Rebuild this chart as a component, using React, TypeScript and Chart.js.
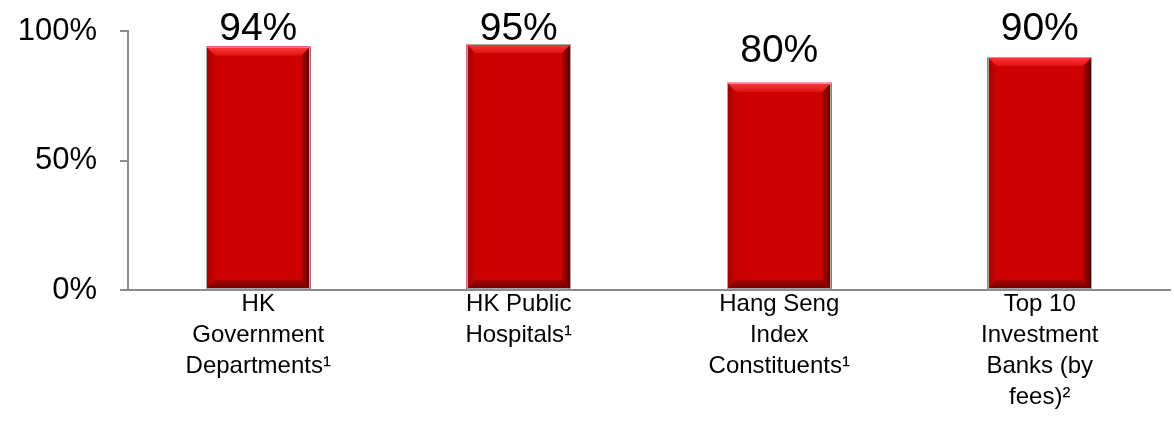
import React, { useEffect, useRef } from "react";
import { Chart, registerables } from "chart.js";

Chart.register(...registerables);

const categories: (string | string[])[] = [
  ["HK", "Government", "Departments¹"],
  ["HK Public", "Hospitals¹"],
  ["Hang Seng", "Index", "Constituents¹"],
  ["Top 10", "Investment", "Banks (by", "fees)²"],
];
const values: number[] = [94, 95, 80, 90];
const yTicks: number[] = [0, 50, 100];

const FONT = "'Liberation Sans', Arial, Helvetica, sans-serif";

const bevelPlugin = {
  id: "bevel",
  afterDatasetsDraw(chart: any) {
    const ctx = chart.ctx as CanvasRenderingContext2D;
    const meta = chart.getDatasetMeta(0);
    meta.data.forEach((bar: any) => {
      const { x, y, base, width } = bar.getProps(["x", "y", "base", "width"], true);
      const l = x - width / 2;
      const r = x + width / 2;
      const t = y;
      const b = base;
      const bw = 9;
      ctx.save();
      const poly = (pts: number[][], fill: CanvasGradient | string) => {
        ctx.beginPath();
        ctx.moveTo(pts[0][0], pts[0][1]);
        for (let i = 1; i < pts.length; i++) ctx.lineTo(pts[i][0], pts[i][1]);
        ctx.closePath();
        ctx.fillStyle = fill;
        ctx.fill();
      };
      let g = ctx.createLinearGradient(l, 0, l + bw, 0);
      g.addColorStop(0, "#a00000");
      g.addColorStop(1, "#c80202");
      poly([[l, t], [l + bw, t + bw], [l + bw, b - bw], [l, b]], g);
      g = ctx.createLinearGradient(r - bw, 0, r, 0);
      g.addColorStop(0, "#b80000");
      g.addColorStop(1, "#4a0000");
      poly([[r, t], [r, b], [r - bw, b - bw], [r - bw, t + bw]], g);
      g = ctx.createLinearGradient(0, b - bw, 0, b);
      g.addColorStop(0, "#a80000");
      g.addColorStop(1, "#6a0000");
      poly([[l, b], [r, b], [r - bw, b - bw], [l + bw, b - bw]], g);
      g = ctx.createLinearGradient(0, t, 0, t + bw);
      g.addColorStop(0, "#ff3a3a");
      g.addColorStop(1, "#e01414");
      poly([[l, t], [r, t], [r - bw, t + bw], [l + bw, t + bw]], g);
      ctx.strokeStyle = "#a8a8a8";
      ctx.lineWidth = 1;
      ctx.strokeRect(Math.round(l) + 0.5, Math.round(t) + 0.5, Math.round(r - l) - 1, Math.round(b - t) - 1);
      ctx.restore();
    });
  },
};

const labelPlugin = {
  id: "valueLabels",
  afterDatasetsDraw(chart: any) {
    const ctx = chart.ctx as CanvasRenderingContext2D;
    const meta = chart.getDatasetMeta(0);
    const top = chart.chartArea.top;
    ctx.save();
    ctx.font = `39px ${FONT}`;
    ctx.fillStyle = "#000";
    ctx.textAlign = "center";
    ctx.textBaseline = "alphabetic";
    meta.data.forEach((bar: any, i: number) => {
      const yy = Math.max(bar.y - 21, top + 9);
      ctx.fillText(values[i] + "%", bar.x, yy);
    });
    ctx.restore();
  },
};

export default function App() {
  const ref = useRef<HTMLCanvasElement | null>(null);
  useEffect(() => {
    if (!ref.current) return;
    const chart = new Chart(ref.current, {
      type: "bar",
      data: {
        labels: categories as any,
        datasets: [
          {
            data: values,
            backgroundColor: "#cc0202",
            borderWidth: 0,
            barPercentage: 0.4,
            categoryPercentage: 1,
          },
        ],
      },
      options: {
        animation: false,
        responsive: false,
        devicePixelRatio: 1,
        layout: { padding: { top: 31, right: 4, left: 0, bottom: 0 } },
        plugins: {
          legend: { display: false },
          tooltip: { enabled: false },
        },
        scales: {
          x: {
            grid: { display: false, drawTicks: false },
            border: { display: true, color: "#8c8c8c", width: 2 },
            ticks: {
              color: "#000",
              font: { family: FONT, size: 24, lineHeight: "31px" as any },
              padding: -1,
              maxRotation: 0,
              autoSkip: false,
            },
            afterFit: (s: any) => {
              s.height = 145;
              s.paddingLeft = 0;
              s.paddingRight = 0;
            },
          },
          y: {
            min: 0,
            max: 100,
            afterBuildTicks: (s: any) => {
              s.ticks = yTicks.map((v) => ({ value: v }));
            },
            grid: {
              drawOnChartArea: false,
              drawTicks: true,
              tickLength: 8,
              color: "#8c8c8c",
              lineWidth: 2,
            },
            border: { display: true, color: "#8c8c8c", width: 2 },
            ticks: {
              color: "#000",
              font: { family: FONT, size: 31 },
              padding: 23,
              callback: (v: any) => v + "%",
            },
            afterFit: (s: any) => {
              s.width = 128;
              s.paddingTop = 0;
              s.paddingBottom = 0;
            },
          },
        },
      },
      plugins: [bevelPlugin, labelPlugin],
    });
    return () => chart.destroy();
  }, []);
  return (
    <div style={{ position: "fixed", left: 0, top: 0, width: 1174, height: 435, background: "#fff" }}>
      <canvas ref={ref} width={1174} height={435} />
    </div>
  );
}
